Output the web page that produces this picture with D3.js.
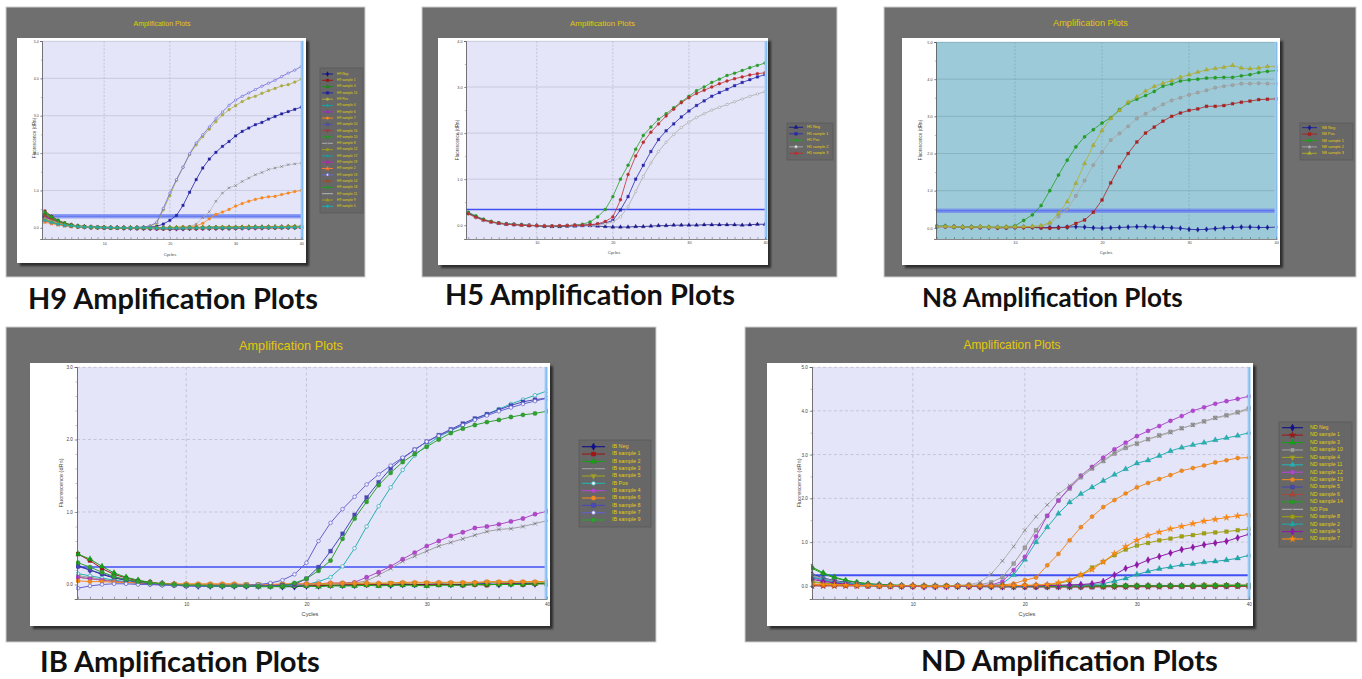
<!DOCTYPE html>
<html><head><meta charset="utf-8">
<script src="https://cdn.jsdelivr.net/npm/d3@7"></script>
<style>html,body{margin:0;padding:0;background:#fff;overflow:hidden}</style>
</head><body>
<script>
// ---------------- DATA ----------------
const cycles = [1,2,3,4,5,6,7,8,9,10,11,12,13,14,15,16,17,18,19,20,21,22,23,24,25,26,27,28,29,30,31,32,33,34,35,36,37,38,39,40];
const xTickLabels = [10,20,30,40];
const titleText = "Amplification Plots";
const captionTexts = ["H9 Amplification Plots","H5 Amplification Plots","N8 Amplification Plots","IB Amplification Plots","ND Amplification Plots"];

// H9
const h9Names = ["H9 Neg","H9 sample 1","H9 sample 3","H9 sample 15","H9 Pos","H9 sample 4","H9 sample 6","H9 sample 7","H9 sample 10","H9 sample 16","H9 sample 20","H9 sample 8","H9 sample 12","H9 sample 17","H9 sample 19","H9 sample 2","H9 sample 13","H9 sample 14","H9 sample 18","H9 sample 11","H9 sample 9","H9 sample 5"];
const h9Neg = [0.3,0.2,0.13,0.08,0.05,0.03,0.02,0.01,0.01,0,0,0,-0.01,-0.01,-0.01,-0.02,-0.02,-0.02,-0.02,-0.03,-0.03,-0.03,-0.02,-0.02,-0.02,-0.02,-0.01,-0.01,-0.01,-0.01,0,0,0,0,0.01,0.01,0.01,0.01,0.02,0.02];
const h9S1 = [0.45,0.31,0.2,0.13,0.08,0.05,0.03,0.02,0.01,0,0,-0.01,-0.01,-0.01,-0.02,-0.02,-0.02,-0.03,-0.03,-0.03,-0.02,-0.02,-0.02,-0.01,-0.01,-0.01,-0.01,0,0,0,0,0,0.01,0.01,0.01,0.01,0.01,0.02,0.02,0.02];
const h9S3 = [0.4,0.28,0.18,0.11,0.07,0.05,0.03,0.02,0.02,0.01,0.01,0.01,0,0,0,0,0,0,0,0,0.01,0.01,0.01,0.01,0.01,0.02,0.02,0.02,0.02,0.02,0.02,0.03,0.03,0.03,0.03,0.03,0.03,0.04,0.04,0.04];
const h9S15 = [0.3,0.21,0.14,0.09,0.06,0.04,0.03,0.02,0.01,0.01,0,0,0,0,0,0.01,0.02,0.04,0.1,0.2,0.33,0.6,0.95,1.29,1.6,1.84,2.02,2.18,2.31,2.46,2.58,2.67,2.76,2.82,2.91,2.98,3.05,3.11,3.17,3.23];
const h9Pos = [0.35,0.25,0.16,0.1,0.07,0.04,0.03,0.02,0.01,0.01,0,0,0,0,0.01,0.02,0.05,0.12,0.48,0.86,1.27,1.62,1.96,2.22,2.44,2.64,2.84,3.02,3.16,3.27,3.38,3.47,3.52,3.6,3.67,3.73,3.8,3.83,3.9,3.98];
const h9S4 = [0.2,0.15,0.1,0.07,0.05,0.03,0.02,0.01,0,0,0,-0.01,-0.01,-0.01,-0.01,-0.01,-0.02,-0.02,-0.02,-0.02,-0.02,-0.02,-0.02,-0.02,-0.01,-0.01,-0.01,-0.01,-0.01,0,0,0,0,0,0,0.01,0.01,0.01,0.01,0.01];
const h9S6 = [0.25,0.18,0.12,0.08,0.05,0.03,0.02,0.01,0.01,0,0,0,0,-0.01,-0.01,-0.01,-0.01,-0.01,-0.02,-0.02,-0.02,-0.01,-0.01,-0.01,-0.01,-0.01,0,0,0,0,0,0.01,0.01,0.01,0.01,0.01,0.01,0.01,0.02,0.02];
const h9S7 = [0.2,0.14,0.1,0.06,0.04,0.03,0.02,0.01,0,0,0,0,0,0,0,0,0,0,0,0.01,0.01,0.02,0.03,0.05,0.12,0.24,0.36,0.42,0.49,0.58,0.65,0.71,0.76,0.8,0.83,0.84,0.89,0.93,0.97,1.0];
const h9S10 = [0.28,0.2,0.13,0.09,0.06,0.04,0.03,0.02,0.01,0.01,0,0,0,0,0,-0.01,-0.01,-0.01,-0.01,-0.01,-0.01,-0.01,-0.01,0,0,0,0,0,0,0.01,0.01,0.01,0.01,0.01,0.02,0.02,0.02,0.02,0.02,0.03];
const h9S16 = [0.35,0.25,0.16,0.1,0.07,0.04,0.03,0.02,0.01,0.01,0,0,0,-0.01,-0.01,-0.01,-0.02,-0.02,-0.02,-0.02,-0.02,-0.02,-0.02,-0.02,-0.02,-0.01,-0.01,-0.01,-0.01,-0.01,-0.01,0,0,0,0,0,0,0.01,0.01,0.01];
const h9S20 = [0.38,0.27,0.17,0.11,0.07,0.05,0.03,0.02,0.02,0.01,0.01,0,0,0,0,0,0,0,0,0,0,0,0,0,0.01,0.01,0.01,0.01,0.01,0.01,0.01,0.01,0.02,0.02,0.02,0.02,0.02,0.02,0.02,0.03];
const h9S8 = [0.22,0.16,0.11,0.07,0.05,0.03,0.02,0.01,0.01,0,0,0,0,0,0,0,0,0,0,0,0.01,0.02,0.04,0.1,0.27,0.43,0.71,0.93,1.07,1.13,1.24,1.33,1.42,1.48,1.56,1.6,1.64,1.69,1.71,1.73];
const h9S12 = [0.22,0.16,0.11,0.07,0.05,0.03,0.02,0.02,0.01,0.01,0.01,0,0,0,0,0,0,0,0,0,0,0,0,0,0,0,0,0,0.01,0.01,0.01,0.01,0.01,0.01,0.01,0.01,0.01,0.01,0.01,0.01];
const h9S17 = [0.18,0.13,0.09,0.06,0.04,0.03,0.02,0.01,0.01,0,0,0,0,0,0,-0.01,-0.01,-0.01,-0.01,-0.01,-0.01,-0.01,0,0,0,0,0,0,0,0,0,0,0,0.01,0.01,0.01,0.01,0.01,0.01,0.01];
const h9S19 = [0.3,0.21,0.14,0.09,0.06,0.04,0.02,0.01,0.01,0,0,0,-0.01,-0.01,-0.01,-0.01,-0.01,-0.02,-0.02,-0.02,-0.02,-0.02,-0.02,-0.02,-0.02,-0.02,-0.02,-0.02,-0.01,-0.01,-0.01,-0.01,-0.01,-0.01,0,0,0,0,0,0];
const h9S2 = [0.15,0.11,0.08,0.05,0.04,0.03,0.02,0.01,0.01,0.01,0,0,0,0,0,0,0,0,0,0,0,0.01,0.01,0.01,0.01,0.01,0.01,0.01,0.02,0.02,0.02,0.02,0.02,0.02,0.02,0.02,0.03,0.03,0.03,0.03];
const h9S13 = [0.25,0.18,0.12,0.08,0.05,0.03,0.02,0.01,0.01,0,0,0,0,0,0.01,0.02,0.05,0.15,0.52,0.93,1.29,1.62,1.98,2.27,2.49,2.7,2.92,3.1,3.28,3.42,3.52,3.61,3.7,3.79,3.87,3.95,4.05,4.14,4.22,4.32];
const h9S14 = [0.33,0.23,0.15,0.1,0.06,0.04,0.03,0.02,0.01,0.01,0,0,0,0,-0.01,-0.01,-0.01,-0.01,-0.01,-0.02,-0.02,-0.02,-0.02,-0.02,-0.01,-0.01,-0.01,-0.01,-0.01,-0.01,0,0,0,0,0,0,0,0.01,0.01,0.01];
const h9S18 = [0.42,0.3,0.19,0.12,0.08,0.05,0.03,0.02,0.01,0.01,0,0,0,0,0,0,0,0,0,0,0,0,0,0,0,0,0,0,0,0.01,0.01,0.01,0.01,0.01,0.01,0.01,0.01,0.01,0.01,0.02];
const h9S11 = [0.26,0.19,0.13,0.08,0.05,0.04,0.03,0.02,0.01,0.01,0,0,0,0,0,0,-0.01,-0.01,-0.01,-0.01,-0.01,-0.01,-0.01,-0.01,-0.01,-0.01,0,0,0,0,0,0,0,0,0,0.01,0.01,0.01,0.01,0.01];
const h9S9 = [0.24,0.17,0.12,0.08,0.05,0.03,0.02,0.01,0.01,0.01,0,0,0,0,0,0,0,0,0,0.01,0.01,0.01,0.01,0.01,0.01,0.01,0.01,0.02,0.02,0.02,0.02,0.02,0.02,0.02,0.02,0.03,0.03,0.03,0.03,0.03];
const h9S5 = [0.2,0.14,0.1,0.07,0.05,0.03,0.02,0.02,0.01,0.01,0.01,0,0,0,0,0,0,-0.01,-0.01,-0.01,-0.01,-0.01,0,0,0,0,0,0,0,0,0,0,0.01,0.01,0.01,0.01,0.01,0.01,0.01,0.02];
const h9Values = [h9Neg,h9S1,h9S3,h9S15,h9Pos,h9S4,h9S6,h9S7,h9S10,h9S16,h9S20,h9S8,h9S12,h9S17,h9S19,h9S2,h9S13,h9S14,h9S18,h9S11,h9S9,h9S5];
const h9YTicks = [0,1,2,3,4,5];
const h9Threshold = 0.31;

// H5
const h5Names = ["H5 Neg","H5 sample 1","H5 Pos","H5 sample 2","H5 sample 3"];
const h5Neg = [0.26,0.18,0.11,0.07,0.04,0.02,0.01,0,-0.01,-0.01,-0.02,-0.03,-0.03,-0.02,-0.02,-0.01,-0.01,-0.02,-0.03,-0.04,-0.04,-0.04,-0.03,-0.03,-0.02,-0.01,-0.01,0,0,0,0,0.01,0.01,0.01,0.01,0.01,0,0.01,0.02,0.02];
const h5S1 = [0.27,0.19,0.12,0.07,0.05,0.03,0.02,0.01,0,-0.01,-0.02,-0.02,-0.02,-0.01,0,0,0.01,0.02,0.05,0.1,0.33,0.62,1.0,1.3,1.6,1.86,2.05,2.2,2.35,2.48,2.6,2.7,2.8,2.88,2.95,3.03,3.1,3.16,3.22,3.27];
const h5Pos = [0.28,0.2,0.13,0.08,0.05,0.03,0.02,0.01,0,-0.01,-0.02,-0.02,-0.02,-0.01,0,0.02,0.07,0.18,0.34,0.62,1.0,1.3,1.65,1.95,2.13,2.3,2.42,2.55,2.68,2.8,2.92,3.0,3.1,3.17,3.25,3.3,3.36,3.42,3.47,3.52];
const h5S2 = [0.24,0.16,0.1,0.06,0.04,0.02,0.01,0,0,-0.01,-0.01,-0.02,-0.01,-0.01,0,0,0,0.01,0.03,0.07,0.18,0.4,0.73,1.06,1.35,1.6,1.8,1.97,2.12,2.24,2.34,2.42,2.5,2.56,2.62,2.68,2.74,2.8,2.85,2.9];
const h5S3 = [0.25,0.17,0.11,0.07,0.04,0.02,0.01,0,-0.01,-0.01,-0.02,-0.02,-0.01,-0.01,0,0,0.01,0.03,0.08,0.18,0.55,1.1,1.5,1.8,2.02,2.2,2.37,2.52,2.66,2.77,2.86,2.93,3.0,3.07,3.13,3.18,3.22,3.26,3.29,3.31];
const h5Values = [h5Neg,h5S1,h5Pos,h5S2,h5S3];
const h5YTicks = [0,1,2,3,4];
const h5Threshold = 0.34;

// N8
const n8Names = ["N8 Neg","N8 Pos","N8 sample 1","N8 sample 2","N8 sample 3"];
const n8Neg = [0.04,0.04,0.03,0.02,0.02,0.02,0.01,0.01,0.01,0.02,0.02,0.02,0.01,0.01,0.01,0.02,0.03,0.02,0,-0.01,0,0.01,0.02,0.03,0.03,0.02,0.01,0,-0.01,-0.04,-0.05,-0.04,-0.02,0,0.01,0.02,0.02,0.01,0.01,0.02];
const n8Pos = [0.03,0.03,0.02,0.01,0.01,0.01,0.01,0,0,0.01,0.01,0.01,0,-0.01,0,0.02,0.12,0.21,0.42,0.75,1.21,1.64,2.0,2.31,2.55,2.71,2.87,3.0,3.09,3.16,3.2,3.27,3.27,3.29,3.34,3.38,3.41,3.45,3.46,3.47];
const n8S1 = [0.04,0.05,0.03,0.02,0.03,0.03,0.02,0.02,0.03,0.05,0.2,0.35,0.6,1.0,1.42,1.82,2.18,2.45,2.64,2.82,2.96,3.18,3.36,3.46,3.56,3.67,3.81,3.87,3.95,3.98,4.0,4.03,4.04,4.05,4.05,4.09,4.12,4.18,4.21,4.23];
const n8S2 = [0.03,0.03,0.02,0.02,0.02,0.02,0.01,0.02,0.02,0.02,0.03,0.03,0.05,0.1,0.3,0.5,0.86,1.27,1.69,2.04,2.36,2.54,2.73,2.94,3.07,3.2,3.32,3.43,3.5,3.58,3.64,3.7,3.77,3.81,3.84,3.88,3.88,3.89,3.88,3.88];
const n8S3 = [0.04,0.04,0.03,0.02,0.02,0.03,0.02,0.02,0.02,0.03,0.03,0.04,0.06,0.14,0.39,0.7,1.2,1.73,2.22,2.62,2.94,3.16,3.38,3.52,3.68,3.8,3.89,3.96,4.05,4.12,4.19,4.25,4.29,4.32,4.37,4.3,4.28,4.3,4.34,4.35];
const n8Values = [n8Neg,n8Pos,n8S1,n8S2,n8S3];
const n8YTicks = [0,1,2,3,4,5];
const n8Threshold = 0.46;

// IB
const ibNames = ["IB Neg","IB sample 1","IB sample 2","IB sample 3","IB sample 5","IB Pos","IB sample 4","IB sample 6","IB sample 8","IB sample 7","IB sample 9"];
const ibNeg = [0.26,0.2,0.14,0.09,0.06,0.04,0.02,0.01,0,-0.01,-0.02,-0.02,-0.02,-0.02,-0.02,-0.02,-0.02,-0.03,-0.03,-0.02,-0.02,-0.01,-0.01,-0.01,0,0,-0.01,0,0,0,0.01,0,0,0.01,0.01,0,0.01,0.01,0.01,0.02];
const ibS1 = [0.42,0.33,0.22,0.14,0.09,0.05,0.03,0.01,0,-0.01,-0.01,-0.01,-0.01,-0.01,-0.02,-0.02,-0.02,-0.02,-0.02,-0.01,-0.01,-0.01,0,0,0,-0.01,0,0.01,0,-0.01,0,0,-0.01,0,-0.01,0.01,0.01,0,0.01,0.01];
const ibS2 = [0.42,0.35,0.25,0.16,0.1,0.06,0.03,0.01,0,-0.01,-0.01,-0.02,-0.02,-0.02,-0.02,-0.03,-0.03,-0.03,-0.02,-0.02,-0.03,-0.02,-0.02,-0.02,-0.01,-0.02,-0.01,-0.01,-0.01,-0.02,-0.01,-0.01,-0.01,0,0,0,0,0,0.01,0.01];
const ibS3 = [0.12,0.1,0.07,0.05,0.03,0.02,0.01,0,0,-0.01,-0.01,-0.01,-0.01,-0.01,-0.01,-0.01,-0.01,-0.01,0,0,0,0,0.01,0.02,0.05,0.13,0.22,0.32,0.39,0.46,0.53,0.58,0.63,0.68,0.73,0.76,0.77,0.8,0.84,0.88];
const ibS5 = [0.1,0.08,0.06,0.05,0.03,0.02,0.01,0.01,0,0,0,0,0,0,0,0,0,0,0,0,0,0,0.01,0.01,0.01,0.01,0.02,0.02,0.02,0.02,0.02,0.02,0.02,0.02,0.03,0.03,0.03,0.03,0.03,0.03];
const ibPos = [0.15,0.12,0.09,0.06,0.04,0.02,0.01,0,-0.01,-0.01,-0.02,-0.02,-0.02,-0.02,-0.02,-0.02,-0.02,-0.01,-0.01,0,0.04,0.1,0.25,0.5,0.8,1.08,1.34,1.58,1.78,1.92,2.04,2.12,2.2,2.28,2.35,2.42,2.49,2.55,2.61,2.67];
const ibS4 = [0.1,0.08,0.06,0.04,0.03,0.02,0.01,0,0,-0.01,-0.01,-0.01,-0.01,-0.01,-0.01,-0.01,-0.01,0,0,0.01,0.01,0.02,0.02,0.03,0.1,0.17,0.25,0.35,0.44,0.53,0.6,0.67,0.72,0.78,0.8,0.83,0.87,0.91,0.97,1.01];
const ibS6 = [0.05,0.04,0.04,0.03,0.03,0.02,0.02,0.01,0.01,0.01,0.01,0.01,0.01,0.01,0,0,0,0.01,0.01,0.01,0.01,0.02,0.02,0.02,0.02,0.02,0.02,0.03,0.03,0.03,0.03,0.03,0.03,0.03,0.04,0.04,0.04,0.04,0.04,0.04];
const ibS8 = [0.25,0.2,0.15,0.1,0.06,0.03,0.01,0,-0.01,-0.02,-0.02,-0.02,-0.02,-0.02,-0.02,-0.02,-0.02,-0.01,0,0.08,0.24,0.46,0.7,0.96,1.2,1.41,1.6,1.74,1.86,1.97,2.06,2.14,2.22,2.29,2.35,2.41,2.47,2.52,2.55,2.57];
const ibS7 = [-0.05,-0.02,0,0.01,0.01,0,0,-0.01,-0.01,-0.02,-0.02,-0.02,-0.02,-0.01,-0.01,0,0.02,0.06,0.14,0.3,0.6,0.85,1.04,1.21,1.38,1.52,1.64,1.75,1.86,1.97,2.05,2.13,2.2,2.27,2.33,2.39,2.44,2.49,2.53,2.57];
const ibS9 = [0.3,0.24,0.17,0.11,0.07,0.04,0.02,0.01,0,-0.01,-0.01,-0.02,-0.02,-0.02,-0.02,-0.02,-0.03,-0.02,0.02,0.08,0.19,0.33,0.63,0.91,1.14,1.37,1.54,1.69,1.8,1.9,2.0,2.09,2.15,2.2,2.24,2.27,2.31,2.34,2.36,2.39];
const ibValues = [ibNeg,ibS1,ibS2,ibS3,ibS5,ibPos,ibS4,ibS6,ibS8,ibS7,ibS9];
const ibYTicks = [0,1,2,3];
const ibThreshold = 0.24;

// ND
const ndNames = ["ND Neg","ND sample 1","ND sample 3","ND sample 10","ND sample 4","ND sample 11","ND sample 12","ND sample 13","ND sample 5","ND sample 6","ND sample 14","ND Pos","ND sample 8","ND sample 2","ND sample 9","ND sample 7"];
const ndNeg = [0.26,0.18,0.12,0.08,0.05,0.03,0.02,0.01,0,0,-0.01,-0.01,-0.01,-0.01,-0.01,-0.02,-0.02,-0.02,-0.02,-0.02,-0.02,-0.02,-0.02,-0.02,-0.02,-0.01,-0.01,-0.01,-0.01,-0.01,0,0,0,0,0,0,0,0,0.01,0.01];
const ndS1 = [0,0,0,0,0,0,0,-0.01,-0.01,-0.01,-0.01,-0.01,-0.01,-0.01,-0.01,-0.01,-0.01,-0.02,-0.02,-0.02,-0.02,-0.02,-0.02,-0.02,-0.02,-0.02,-0.02,-0.02,-0.02,-0.02,-0.02,-0.02,-0.01,-0.01,-0.01,-0.01,-0.01,-0.01,-0.01,-0.01];
const ndS3 = [0.43,0.3,0.2,0.13,0.08,0.05,0.03,0.02,0.01,0,0,0,-0.01,-0.01,-0.01,-0.01,-0.01,-0.01,-0.01,-0.01,-0.01,-0.01,-0.01,-0.01,-0.01,-0.01,0,0,0,0,0,0,0,0,0.01,0.01,0.01,0.01,0.01,0.01];
const ndS10 = [0.25,0.17,0.11,0.07,0.04,0.02,0.01,0,0,-0.01,-0.01,-0.01,0,0,0.01,0.03,0.08,0.2,0.51,0.87,1.27,1.6,1.95,2.22,2.48,2.68,2.85,3.02,3.15,3.25,3.35,3.44,3.52,3.6,3.68,3.76,3.84,3.9,3.97,4.06];
const ndS4 = [0.08,0.06,0.04,0.03,0.02,0.01,0.01,0,0,0,0,0,0,0,0,0,0,0,0,0,0,0,0,0,0,0,0.01,0.01,0.01,0.01,0.01,0.01,0.01,0.01,0.01,0.02,0.02,0.02,0.02,0.02];
const ndS11 = [0.2,0.14,0.09,0.06,0.04,0.02,0.01,0,0,0,-0.01,-0.01,-0.01,0,0,0,0.01,0.05,0.25,0.6,1.0,1.34,1.65,1.91,2.1,2.25,2.4,2.54,2.67,2.8,2.87,2.97,3.08,3.16,3.22,3.27,3.33,3.38,3.43,3.5];
const ndS12 = [0.18,0.12,0.08,0.05,0.03,0.02,0.01,0,0,-0.01,-0.01,-0.02,-0.01,-0.01,0,0.01,0.02,0.1,0.36,0.66,1.13,1.6,1.95,2.25,2.52,2.72,2.93,3.12,3.27,3.42,3.54,3.65,3.77,3.88,4.0,4.08,4.16,4.22,4.27,4.33];
const ndS13 = [0.03,0.02,0.02,0.01,0.01,0,0,0,-0.01,-0.01,-0.01,-0.01,0,0,0,0,0.01,0.02,0.05,0.13,0.19,0.47,0.73,1.04,1.34,1.58,1.8,1.96,2.11,2.25,2.35,2.44,2.53,2.63,2.69,2.75,2.82,2.87,2.92,2.93];
const ndS5 = [0.22,0.15,0.1,0.07,0.04,0.03,0.02,0.01,0,0,0,-0.01,-0.01,-0.01,-0.01,-0.01,-0.01,-0.01,-0.01,-0.01,-0.01,-0.01,-0.01,-0.01,-0.01,0,0,0,0,0,0,0,0,0,0,0,0,0.01,0.01,0.01];
const ndS6 = [0.02,0.02,0.01,0.01,0.01,0,0,0,0,0,-0.01,-0.01,-0.01,-0.01,-0.01,-0.01,-0.01,-0.01,-0.01,-0.01,-0.02,-0.02,-0.02,-0.02,-0.02,-0.02,-0.02,-0.01,-0.01,-0.01,-0.01,-0.01,-0.01,-0.01,-0.01,-0.01,-0.01,0,0,0];
const ndS14 = [0.4,0.28,0.18,0.12,0.08,0.05,0.03,0.02,0.01,0,0,0,0,0,0,0,0,0,-0.01,-0.01,-0.01,-0.01,-0.01,-0.01,0,0,0,0,0,0,0,0,0,0,0,0,0.01,0.01,0.01,0.01];
const ndPos = [0.22,0.15,0.1,0.06,0.04,0.02,0.01,0,0,-0.01,-0.01,0,0,0.01,0.03,0.08,0.27,0.57,0.9,1.27,1.58,1.85,2.1,2.29,2.52,2.7,2.86,3.05,3.18,3.25,3.35,3.42,3.5,3.6,3.67,3.75,3.83,3.88,3.95,4.03];
const ndS8 = [0.1,0.07,0.05,0.03,0.02,0.01,0,0,0,-0.01,-0.01,-0.01,-0.01,-0.01,0,0,0,0,0,0.01,0.01,0.02,0.05,0.12,0.25,0.42,0.55,0.7,0.83,0.92,0.98,1.04,1.08,1.13,1.16,1.2,1.22,1.24,1.27,1.3];
const ndS2 = [0.2,0.14,0.09,0.06,0.04,0.02,0.01,0,0,-0.01,-0.01,-0.01,-0.01,0,0,0,0,0,0,0,0.01,0.01,0.01,0.02,0.02,0.03,0.05,0.11,0.17,0.26,0.33,0.39,0.43,0.48,0.5,0.54,0.56,0.59,0.63,0.7];
const ndS9 = [0.15,0.1,0.07,0.04,0.02,0.01,0,0,-0.01,-0.01,-0.02,-0.02,-0.02,-0.01,-0.01,-0.01,0,0,0,0,0,0.01,0.01,0.02,0.03,0.05,0.1,0.25,0.4,0.48,0.59,0.67,0.75,0.83,0.88,0.94,0.98,1.02,1.1,1.18];
const ndS7 = [0.04,0.03,0.02,0.02,0.01,0.01,0,0,0,0,-0.01,-0.01,-0.01,0,0,0,0,0,0.01,0.01,0.02,0.03,0.07,0.14,0.25,0.37,0.55,0.74,0.9,1.04,1.15,1.23,1.3,1.36,1.42,1.48,1.52,1.56,1.6,1.63];
const ndValues = [ndNeg,ndS1,ndS3,ndS10,ndS4,ndS11,ndS12,ndS13,ndS5,ndS6,ndS14,ndPos,ndS8,ndS2,ndS9,ndS7];
const ndYTicks = [0,1,2,3,4,5];
const ndThreshold = 0.24;

// ---------------- STYLES ----------------
const h9Colors = ["#10108a","#9a1515","#1a901a","#2020a8","#b0b040","#20a0a0","#a030c0","#ff8c1a","#5252aa","#a04040","#20a020","#b8b8b8","#a0a020","#20a0a0","#c020c0","#ff8030","#6c6cd4","#a05030","#20a020","#c0c0c0","#a0a020","#20b0b0"];
const h9Symbols = ["diamond","square","triangle","square","circle","circle","triangle","circle","star","down","circle","x","square","triangle","diamond","star","o","triangle","diamond","none","triangle","circle"];
const h5Colors = ["#1a1a8c","#2a2ab4","#2aa02a","#ababab","#c03030"];
const h5Symbols = ["triangle","square","circle","o","circle"];
const n8Colors = ["#1a1a9c","#b02020","#22a022","#a8a8a8","#b0b030"];
const n8Symbols = ["diamond","square","circle","circle","triangle"];
const ibColors = ["#10108a","#a01818","#18a018","#a0a0a0","#a0a028","#28b0b0","#b048c8","#f08a20","#4848b8","#6461cc","#30a030"];
const ibSymbols = ["diamond","square","triangle","x","down","o","circle","circle","square","o","circle"];
const ndColors = ["#10108a","#a01818","#18a018","#a0a0a0","#a0a028","#28b0b0","#b048d0","#f08a20","#4848a8","#a84838","#20a020","#b0b0b0","#a0a010","#20a8a8","#9018a8","#ff8a10"];
const ndSymbols = ["diamond","star","triangle","square","down","triangle","circle","circle","square","triangle","circle","x","square","triangle","diamond","star"];

const layouts = [
  {id:"H9", frame:[6,7,365,277], title:[162,23,57], white:[17,38,306,263], plot:[42,41,303,239],
   xDomain:[0.55,40.25], yDomain:[-0.3,5.0], yTicks:h9YTicks, thr:h9Threshold, thrBand:true, bg:"#e5e5fa",
   gridH:"#bfbfd2", gridV:"#b5b5c8", dashH:false, fs:3.6, lw:0.8, ms:6,
   legend:{box:[320,68,363,213], y0:74, dy:6.3, lx:[322,333], tx:337, fs:3.3},
   ylab:[35,138,4.6], xlab:[170,255,4.2], xtY:245,
   names:h9Names, values:h9Values, colors:h9Colors, symbols:h9Symbols},
  {id:"H5", frame:[422,7,837,277], title:[602.5,23,65], white:[438,38,768,265], plot:[466,41,767,239],
   xDomain:[0.7,40.26], yDomain:[-0.3,4.0], yTicks:h5YTicks, thr:h5Threshold, thrBand:false, bg:"#e5e5fa",
   gridH:"#bfbfd2", gridV:"#b5b5c8", dashH:false, fs:3.8, lw:0.8, ms:7,
   legend:{box:[787,123,833,160], y0:127.3, dy:6.5, lx:[789,803], tx:807, fs:3.8},
   ylab:[458,140,4.6], xlab:[614,253,4.2], xtY:244,
   names:h5Names, values:h5Values, colors:h5Colors, symbols:h5Symbols},
  {id:"N8", frame:[884,7,1356,277], title:[1090.5,23,75], white:[902,38,1280,265], plot:[936,42,1277,239],
   xDomain:[0.93,40.1], yDomain:[-0.3,5.0], yTicks:n8YTicks, thr:n8Threshold, thrBand:true, bg:"#9ccad8",
   gridH:"#7fa9b8", gridV:"#7fa9b8", dashH:false, fs:3.8, lw:0.8, ms:8,
   legend:{box:[1300,123,1353,160], y0:127.7, dy:6.4, lx:[1302,1317], tx:1322, fs:3.9},
   ylab:[921,140,4.6], xlab:[1106,253,4.2], xtY:244,
   names:n8Names, values:n8Values, colors:n8Colors, symbols:n8Symbols},
  {id:"IB", frame:[6,327,656,642], title:[291,345,104], white:[30,363,550,626], plot:[77,367,547,599],
   xDomain:[0.92,40], yDomain:[-0.2,3.0], yTicks:ibYTicks, thr:ibThreshold, thrBand:false, bg:"#e5e5fa",
   gridH:"#b8b8c8", gridV:"#b8b8c8", dashH:true, fs:4.6, lw:1, ms:15,
   legend:{box:[579,440,651,527], y0:446.7, dy:7.33, lx:[582,605], tx:612, fs:5.4},
   ylab:[62,483,5.6], xlab:[310,615,5.6], xtY:606,
   names:ibNames, values:ibValues, colors:ibColors, symbols:ibSymbols},
  {id:"ND", frame:[745,327,1357,642], title:[1012,345,97], white:[767,363,1253,626], plot:[812,367,1250,599],
   xDomain:[1,40.1], yDomain:[-0.3,5.0], yTicks:ndYTicks, thr:ndThreshold, thrBand:false, bg:"#e5e5fa",
   gridH:"#b8b8c8", gridV:"#b8b8c8", dashH:true, fs:4.6, lw:1, ms:14,
   legend:{box:[1279,422,1352,547], y0:427.7, dy:7.42, lx:[1282,1303], tx:1310, fs:5.2},
   ylab:[800,483,5.6], xlab:[1027,615,5.6], xtY:606,
   names:ndNames, values:ndValues, colors:ndColors, symbols:ndSymbols}
];
const captionBoxes = [[28,318,299],[445,735,295],[922,1183,298],[40,320,662],[921,1218,661]];

// ---------------- DRAW ----------------
const svg = d3.select("body").append("svg").attr("width",1362).attr("height",679);
const defs = svg.append("defs");
defs.append("filter").attr("id","sh").attr("x","-5%").attr("y","-5%").attr("width","110%").attr("height","110%")
  .append("feGaussianBlur").attr("stdDeviation",1.3);
const smallFont = "'Liberation Sans', Arial, sans-serif";
const grayish = new Set(["#a0a0a0","#ababab","#a8a8a8","#b0b0b0","#b8b8b8","#c0c0c0"]);

function symType(s){
  return ({circle:d3.symbolCircle, o:d3.symbolCircle, square:d3.symbolSquare, diamond:d3.symbolDiamond,
    triangle:d3.symbolTriangle, down:d3.symbolTriangle, star:d3.symbolStar,
    x:(d3.symbolTimes||d3.symbolCross)})[s];
}

function drawMarkers(sel, data, pos, s, col, size){
  if(s==="none") return;
  const gen = d3.symbol().type(symType(s)).size(s==="x"?size*0.8:(s==="o"?size*0.7:size));
  const dark = d3.color(col).darker(grayish.has(col)?1.2:0.5).formatHex();
  sel.selectAll(null).data(data).join("path")
    .attr("transform",(d,j)=>{const p=pos(d,j); return `translate(${p[0]},${p[1]})`+(s==="down"?" rotate(180)":"");})
    .attr("d",gen)
    .attr("fill", s==="x"?"none":(s==="o"?"#eef0ff":col))
    .attr("stroke", s==="x"?dark:(s==="o"?col:dark))
    .attr("stroke-width", s==="x"||s==="o"?0.7:0.3);
}

function drawPanel(L){
  const g = svg.append("g");
  const fr = L.frame, wb = L.white, pl = L.plot;
  g.append("rect").attr("x",fr[0]).attr("y",fr[1]).attr("width",fr[2]-fr[0]).attr("height",fr[3]-fr[1])
    .attr("fill","#6f6f6f").attr("stroke","#d0d0d0").attr("stroke-width",1);
  const t = g.append("text").attr("x",L.title[0]).attr("y",L.title[1]).attr("text-anchor","middle")
    .attr("font-family",smallFont).attr("font-size",10).attr("fill","#e3c80a").text(titleText);
  const tw = t.node().getComputedTextLength();
  const tfs = 10*L.title[2]/tw;
  t.attr("font-size",tfs).attr("y",L.title[1]+0.36*tfs);
  g.append("rect").attr("x",wb[0]+3).attr("y",wb[1]+3).attr("width",wb[2]-wb[0]).attr("height",wb[3]-wb[1])
    .attr("fill","#2e2e2e").attr("filter","url(#sh)");
  g.append("rect").attr("x",wb[0]).attr("y",wb[1]).attr("width",wb[2]-wb[0]).attr("height",wb[3]-wb[1]).attr("fill","#ffffff");

  const x = d3.scaleLinear().domain(L.xDomain).range([pl[0],pl[2]]);
  const y = d3.scaleLinear().domain(L.yDomain).range([pl[3],pl[1]]);
  g.append("rect").attr("x",pl[0]).attr("y",pl[1]).attr("width",pl[2]-pl[0]).attr("height",pl[3]-pl[1]).attr("fill",L.bg);

  const grid = g.append("g");
  grid.selectAll(null).data(xTickLabels.filter(v=>x(v)<pl[2]-3)).join("line")
    .attr("x1",d=>x(d)).attr("x2",d=>x(d)).attr("y1",pl[1]).attr("y2",pl[3])
    .attr("stroke",L.gridV).attr("stroke-width",0.7).attr("stroke-dasharray",L.dashH?"3,2.5":"2,1.6");
  grid.selectAll(null).data(L.yTicks.filter(v=>v>0 && y(v)>pl[1]+2)).join("line")
    .attr("x1",pl[0]).attr("x2",pl[2]).attr("y1",d=>y(d)).attr("y2",d=>y(d))
    .attr("stroke",L.gridH).attr("stroke-width",0.7).attr("stroke-dasharray",L.dashH?"3,2.5":null);
  grid.append("line").attr("x1",pl[0]).attr("x2",pl[2]).attr("y1",pl[1]+0.3).attr("y2",pl[1]+0.3)
    .attr("stroke",L.gridH).attr("stroke-width",0.7).attr("stroke-dasharray",L.dashH?"3,2.5":null);

  const ty = y(L.thr);
  if(L.thrBand){
    g.append("rect").attr("x",pl[0]).attr("y",ty-2.2).attr("width",pl[2]-pl[0]).attr("height",4.4)
      .attr("fill","#6f86f0").attr("opacity",0.75);
    g.append("line").attr("x1",pl[0]).attr("x2",pl[2]).attr("y1",ty).attr("y2",ty).attr("stroke","#4d62ee").attr("stroke-width",0.8);
  } else {
    g.append("line").attr("x1",pl[0]).attr("x2",pl[2]).attr("y1",ty).attr("y2",ty)
      .attr("stroke","#3f4ff2").attr("stroke-width",L.id==="ND"?2:1.5);
  }

  const cid = "clip"+L.id;
  defs.append("clipPath").attr("id",cid).append("rect")
    .attr("x",pl[0]-1).attr("y",pl[1]-1).attr("width",pl[2]-pl[0]+2).attr("height",pl[3]-pl[1]+2);
  const sg = g.append("g").attr("clip-path",`url(#${cid})`);
  const line = d3.line().x((d,i)=>x(cycles[i])).y(d=>y(d));
  L.values.forEach((vals,i)=>{
    const col = L.colors[i];
    const gs = sg.append("g");
    gs.append("path").datum(vals).attr("d",line).attr("fill","none").attr("stroke",col).attr("stroke-width",L.lw);
    drawMarkers(gs, vals, (d,j)=>[x(cycles[j]),y(d)], L.symbols[i], col, L.ms);
  });

  g.append("rect").attr("x",pl[2]-2.4).attr("y",pl[1]).attr("width",3).attr("height",pl[3]-pl[1]).attr("fill","#9cccf6");
  g.append("line").attr("x1",pl[2]-0.6).attr("x2",pl[2]-0.6).attr("y1",pl[1]).attr("y2",pl[3]).attr("stroke","#72aef0").attr("stroke-width",0.6);

  const axCol = "#555";
  const xa = g.append("g").attr("transform",`translate(0,${pl[3]})`)
    .call(d3.axisBottom(x).tickValues(xTickLabels).tickSize(0).tickPadding((L.xtY-pl[3])-0.71*L.fs));
  xa.select(".domain").attr("stroke",axCol).attr("stroke-width",0.7);
  xa.selectAll("text").attr("font-size",L.fs).attr("font-family",smallFont).attr("fill","#444");
  const xm = g.append("g").attr("transform",`translate(0,${pl[3]})`)
    .call(d3.axisTop(x).tickValues(cycles).tickSize(L.fs*0.5).tickFormat(""));
  xm.select(".domain").remove();
  xm.selectAll("line").attr("stroke",axCol).attr("stroke-width",0.5);

  const ya = g.append("g").attr("transform",`translate(${pl[0]},0)`)
    .call(d3.axisLeft(y).tickValues(L.yTicks).tickSize(L.fs*0.5).tickPadding(L.fs*0.4));
  ya.select(".domain").attr("stroke",axCol).attr("stroke-width",0.8);
  ya.selectAll("line").attr("stroke",axCol).attr("stroke-width",0.5);
  ya.selectAll("text").attr("font-size",L.fs).attr("font-family",smallFont).attr("fill","#444");
  const ym = g.append("g").attr("transform",`translate(${pl[0]},0)`)
    .call(d3.axisLeft(y).ticks(12).tickSize(L.fs*0.3).tickFormat(""));
  ym.select(".domain").remove();
  ym.selectAll("line").attr("stroke",axCol).attr("stroke-width",0.4);

  g.append("text").attr("transform",`translate(${L.ylab[0]},${L.ylab[1]}) rotate(-90)`)
    .attr("text-anchor","middle").attr("dominant-baseline","middle")
    .attr("font-size",L.ylab[2]).attr("font-family",smallFont).attr("fill","#444").text("Fluorescence (dRn)");
  g.append("text").attr("x",L.xlab[0]).attr("y",L.xlab[1]).attr("text-anchor","middle").attr("dominant-baseline","middle")
    .attr("font-size",L.xlab[2]).attr("font-family",smallFont).attr("fill","#444").text("Cycles");

  const lg = L.legend, b = lg.box;
  const leg = g.append("g");
  leg.append("rect").attr("x",b[0]).attr("y",b[1]).attr("width",b[2]-b[0]).attr("height",b[3]-b[1])
    .attr("fill","#676767").attr("stroke","#5b5b5b").attr("stroke-width",0.8);
  L.names.forEach((nm,i)=>{
    const yy = lg.y0 + i*lg.dy;
    const col = L.colors[i];
    leg.append("line").attr("x1",lg.lx[0]).attr("x2",lg.lx[1]).attr("y1",yy).attr("y2",yy).attr("stroke",col).attr("stroke-width",L.lw*1.1);
    drawMarkers(leg, [0], ()=>[(lg.lx[0]+lg.lx[1])/2, yy], L.symbols[i], col, L.ms*1.1);
    leg.append("text").attr("x",lg.tx).attr("y",yy).attr("dominant-baseline","middle")
      .attr("font-size",lg.fs).attr("font-family",smallFont).attr("fill","#e6cc10").text(nm);
  });
}

layouts.forEach(drawPanel);

captionTexts.forEach((txt,i)=>{
  const c = captionBoxes[i];
  const el = svg.append("text").attr("x",c[0]).attr("y",c[2])
    .attr("font-family","Lato, 'Open Sans', sans-serif").attr("font-weight",700)
    .attr("font-size",20).attr("fill","#111").text(txt);
  const w = el.node().getComputedTextLength();
  const fs = 20*(c[1]-c[0])/w;
  el.attr("font-size",fs).attr("y",c[2]+0.36*fs);
});
</script>
</body></html>
